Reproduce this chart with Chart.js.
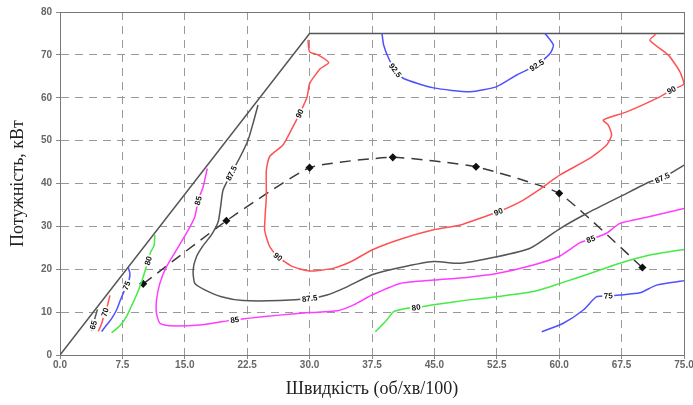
<!DOCTYPE html>
<html>
<head>
<meta charset="utf-8">
<script src="https://cdn.jsdelivr.net/npm/chart.js@4"></script>
<style>
  body { margin: 0; background: #fff; }
  canvas { display: block; }
</style>
</head>
<body>
<canvas id="effMap" width="693" height="405"></canvas>
<script>
// axis ticks
const xTickValues = [0, 7.5, 15, 22.5, 30, 37.5, 45, 52.5, 60, 67.5, 75];
const yTickValues = [0, 10, 20, 30, 40, 50, 60, 70, 80];

// operating limit and the dashed route (speed, power)
const boundary = [[0, 0], [30, 75], [75, 75]];
const route = [[10, 16.6], [20, 31.3], [30, 43.7], [40, 46.1], [50, 43.9], [60, 37.7], [70, 20.4]];

// efficiency contours
const c65 = [[3.8, 5.6], [4.0, 7.0], [4.2, 8.6], [4.5, 10.6]];
const c70 = [[4.6, 5.5], [5.0, 7.3], [5.4, 10.0], [5.7, 11.5], [6.0, 13.9]];
const c75left = [[5.0, 5.5], [5.6, 7.0], [6.2, 8.5], [6.8, 10.5], [7.3, 13.0], [8.0, 16.2], [8.3, 17.5], [8.4, 19.0], [8.2, 20.5]];
const c75right = [[57.9, 5.4], [60.5, 7.4], [62.9, 10.5], [64.5, 13.6], [65.9, 13.8], [67.3, 14.0], [69.7, 14.5], [71.7, 16.3], [75, 17.3]];
const c80left = [[6.2, 5.2], [7.2, 6.8], [8.0, 9.0], [8.6, 11.5], [9.2, 14.0], [9.8, 17.0], [10.6, 22.0], [10.9, 24.0], [11.3, 25.5], [11.4, 28.0]];
const c80right = [[37.9, 5.4], [39.3, 8.2], [40.1, 10.1], [41.7, 10.9], [42.8, 11.1], [44.9, 11.7], [48.9, 12.8], [52.5, 13.6], [56.9, 14.8], [60.1, 16.7], [63.7, 19.0], [67.3, 21.4], [70.9, 23.3], [75, 24.6]];
const c85 = [[17.7, 43.5], [17.2, 39.2], [16.6, 36.0], [16.2, 32.2], [15.2, 28.4], [14.0, 24.5], [12.8, 20.6], [12.0, 16.7], [11.6, 12.8], [11.6, 9.7], [12.0, 7.4], [13.2, 6.8], [16.8, 7.0], [19.6, 7.8], [21.0, 8.2], [22.8, 8.6], [26.4, 9.3], [30.0, 9.9], [33.3, 10.3], [35.3, 11.7], [37.5, 14.0], [40.9, 16.7], [44.9, 17.5], [48.9, 18.1], [52.5, 19.0], [56.9, 21.0], [60.1, 23.1], [62.5, 26.2], [63.8, 27.0], [65.7, 28.4], [67.3, 30.7], [70.9, 32.3], [75, 34.2]];
const c875 = [[23.8, 58.3], [23.2, 54.0], [22.6, 50.1], [21.6, 46.0], [20.6, 42.4], [19.6, 38.5], [19.3, 34.5], [19.0, 31.0], [18.2, 28.0], [17.2, 25.5], [16.4, 22.9], [16.0, 19.8], [16.2, 16.7], [17.4, 15.2], [19.4, 13.6], [22.0, 12.7], [26.4, 12.7], [30.0, 13.2], [32.1, 14.0], [34.5, 15.9], [37.5, 18.7], [40.9, 20.4], [44.9, 21.8], [48.1, 21.4], [52.5, 22.9], [56.5, 24.9], [60.1, 29.5], [63.3, 33.0], [67.7, 37.3], [70.9, 40.4], [72.4, 41.3], [75, 44.3]];
const c90 = [[29.8, 73.5], [30.0, 70.7], [31.0, 70.0], [32.3, 68.2], [31.3, 66.8], [30.0, 63.3], [29.7, 60.2], [28.8, 56.3], [27.8, 52.5], [26.8, 49.0], [25.2, 46.3], [24.8, 43.1], [24.8, 36.9], [24.6, 29.2], [25.2, 25.3], [26.2, 22.9], [28.0, 20.6], [30.0, 19.6], [32.8, 20.2], [35.0, 21.8], [37.5, 24.5], [40.9, 27.0], [44.9, 29.2], [48.1, 30.3], [50.5, 31.9], [52.7, 33.4], [55.3, 35.7], [57.7, 38.7], [60.1, 42.0], [63.7, 45.9], [65.7, 49.0], [66.3, 51.3], [65.9, 53.6], [65.3, 54.8], [68.1, 56.7], [72.1, 60.2], [73.5, 61.8], [75, 63.2], [74.5, 66.1], [73.1, 70.0], [70.9, 73.4], [71.6, 74.8]];
const c925 = [[38.7, 75], [38.9, 72.3], [39.5, 69.2], [40.3, 66.4], [41.3, 64.5], [44.9, 62.3], [49.3, 61.4], [52.5, 62.6], [54.9, 65.3], [57.3, 67.6], [58.9, 70.3], [59.3, 72.3], [58.3, 75]];

const RED = "#ff5252", BLUE = "#5050ff", GREEN = "#46ea46", MAGENTA = "#ff3dff", GRAY = "#555555";

const contours = [
    { data: c65, color: GRAY, text: "65", at: [1] },
    { data: c70, color: RED, text: "70", at: [2] },
    { data: c75left, color: BLUE, text: "75", at: [5] },
    { data: c75right, color: BLUE, text: "75", at: [4] },
    { data: c80left, color: GREEN, text: "80", at: [6] },
    { data: c80right, color: GREEN, text: "80", at: [4] },
    { data: c85, color: MAGENTA, text: "85", at: [2, 14, 28] },
    { data: c875, color: GRAY, text: "87.5", at: [4, 17, 30] },
    { data: c90, color: RED, text: "90", at: [7, 15, 25, 36] },
    { data: c925, color: BLUE, text: "92.5", at: [3, 9] },
];

const toPoints = arr => arr.map(([x, y]) => ({ x, y }));

const datasets = contours.map(c => ({
    data: toPoints(c.data),
    borderColor: c.color,
    borderWidth: 1.5,
    pointRadius: 0,
    tension: 0.2,
    showLine: true,
    contourText: c.text,
    contourAt: c.at,
}));

datasets.push({
    data: toPoints(boundary),
    borderColor: "#555",
    borderWidth: 1.5,
    pointRadius: 0,
    tension: 0,
    showLine: true,
});

datasets.push({
    data: toPoints(route),
    borderColor: "#3a3a3a",
    borderWidth: 1.5,
    borderDash: [11, 7],
    pointStyle: "rectRot",
    pointRadius: 3,
    pointBackgroundColor: "#111",
    pointBorderColor: "#111",
    tension: 0.15,
    showLine: true,
});

// contour value labels, drawn on the line at chosen points
const contourLabels = {
    id: "contourLabels",
    afterDatasetsDraw(chart) {
        const ctx = chart.ctx;
        chart.data.datasets.forEach((ds, i) => {
            if (!ds.contourAt) return;
            const pts = chart.getDatasetMeta(i).data;
            ds.contourAt.forEach(idx => {
                const p = pts[idx];
                const a = pts[Math.max(idx - 1, 0)];
                const b = pts[Math.min(idx + 1, pts.length - 1)];
                let ang = Math.atan2(b.y - a.y, b.x - a.x);
                if (ang > Math.PI / 2) ang -= Math.PI;
                if (ang < -Math.PI / 2) ang += Math.PI;
                ctx.save();
                ctx.translate(p.x, p.y);
                ctx.rotate(ang);
                ctx.font = "bold 8px 'Liberation Sans', Arial, sans-serif";
                const w = ctx.measureText(ds.contourText).width;
                ctx.fillStyle = "#fff";
                ctx.fillRect(-w / 2 - 1.5, -4.5, w + 3, 9);
                ctx.fillStyle = "#111";
                ctx.textAlign = "center";
                ctx.textBaseline = "middle";
                ctx.fillText(ds.contourText, 0, 0.5);
                ctx.restore();
            });
        });
    },
};

const gridDash = (last) => (c) => (c.tick && c.tick.value === last ? [] : [8, 6]);
const gridColor = (last) => (c) => (c.tick && c.tick.value === last ? "#777" : "#999");

const ctxMap = document.getElementById("effMap").getContext("2d");
new Chart(ctxMap, {
    type: "scatter",
    data: { datasets },
    plugins: [contourLabels],
    options: {
        responsive: false,
        animation: false,
        devicePixelRatio: 1,
        layout: { padding: { top: 12, right: 9, left: 0, bottom: 0 } },
        plugins: {
            legend: { display: false },
            tooltip: { enabled: false },
        },
        scales: {
            x: {
                type: "linear",
                min: 0,
                max: 75,
                afterBuildTicks: (s) => { s.ticks = xTickValues.map(v => ({ value: v })); },
                afterFit: (s) => { s.height = 50; s.paddingLeft = 0; s.paddingRight = 0; },
                ticks: {
                    callback: (v) => Number(v).toFixed(1),
                    color: "#666",
                    font: { family: "'Liberation Sans', Arial", size: 10, weight: "bold" },
                    padding: 0,
                    maxRotation: 0,
                },
                grid: { color: gridColor(75), tickLength: 4, tickColor: "#888" },
                border: { color: "#777", width: 1, dash: gridDash(75) },
                title: {
                    display: true,
                    text: "Швидкість (об/хв/100)",
                    color: "#222",
                    font: { family: "'Liberation Serif', 'Times New Roman', serif", size: 18 },
                    padding: { top: 0, bottom: 5 },
                },
            },
            y: {
                type: "linear",
                min: 0,
                max: 80,
                afterBuildTicks: (s) => { s.ticks = yTickValues.map(v => ({ value: v })); },
                afterFit: (s) => { s.width = 60; s.paddingTop = 0; s.paddingBottom = 0; },
                ticks: {
                    color: "#666",
                    font: { family: "'Liberation Sans', Arial", size: 10, weight: "bold" },
                    padding: 4,
                },
                grid: { color: gridColor(80), tickLength: 4, tickColor: "#888" },
                border: { color: "#777", width: 1, dash: gridDash(80) },
                title: {
                    display: true,
                    text: "Потужність, кВт",
                    color: "#222",
                    font: { family: "'Liberation Serif', 'Times New Roman', serif", size: 18 },
                    padding: { top: 7, bottom: 0 },
                },
            },
        },
    },
});
</script>
</body>
</html>
